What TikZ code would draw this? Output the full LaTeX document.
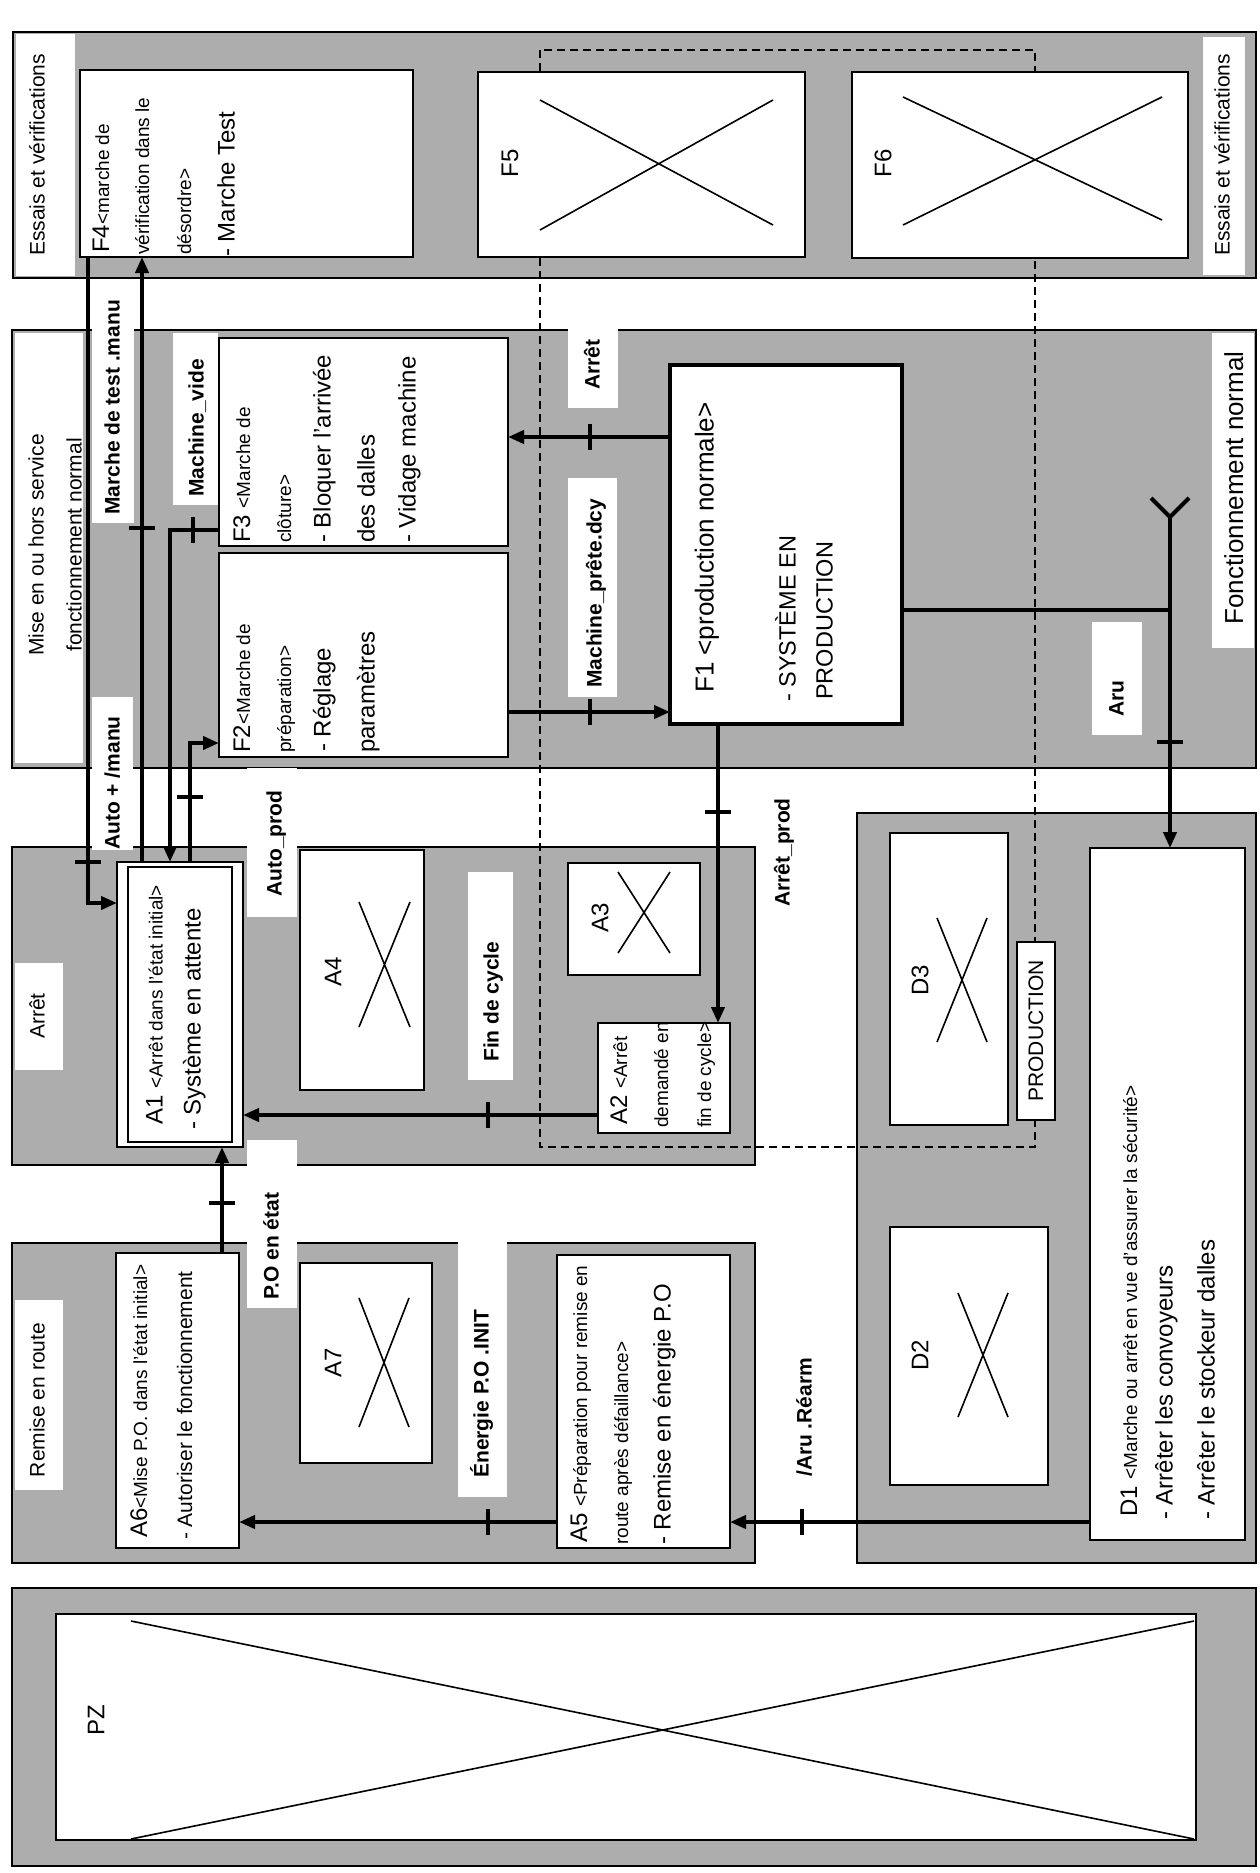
\documentclass[tikz,border=0pt]{standalone}
\usepackage{fontspec}
\setmainfont{Liberation Sans}
\usetikzlibrary{arrows.meta}
\newcounter{tl}
\newcommand\rtx[3][]{\stepcounter{tl}\node[rt,#1] (t\arabic{tl}) at (#2) {#3};}
\newcommand\bx[6][]{\node[box,#1,minimum width={#5-#3},minimum height={#6-#4}] (#2) at ({(#3+#5)/2},{(#4+#6)/2}) {};}
\newcommand\sm[1]{{\fontsize{19}{19}\selectfont #1}}
\begin{document}
\begin{tikzpicture}[x=1pt,y=-1pt,
  panel/.style={draw=black,line width=2pt,fill=black!32},
  box/.style={draw=black,line width=2pt,fill=white,inner sep=0pt,outer sep=0pt},
  wl/.style={fill=white},
  xl/.style={line width=1.6pt},
  dsh/.style={line width=2pt,dash pattern=on 8pt off 5pt},
  line/.style={line width=4pt},
  conn/.style={line width=4pt,-{Triangle[length=16pt,width=13pt]}},
  tick/.style={line width=4.5pt},
  rt/.style={rotate=90,anchor=base west,inner sep=0pt,font=\fontsize{24}{24}\selectfont},
  lab/.style={font=\bfseries\fontsize{21}{21}\selectfont},
  plab/.style={anchor=base,font=\fontsize{21}{21}\selectfont}]
\useasboundingbox (0,0) rectangle (1260,1873);
\fill[white] (0,0) rectangle (1260,1873);
% panels
\draw[panel] (13,32) rectangle (1256,278);
\draw[panel] (12,330) rectangle (1256,768);
\draw[panel] (12,847) rectangle (755,1165);
\draw[panel] (857,813) rectangle (1256,1563);
\draw[panel] (12,1243) rectangle (755,1563);
\draw[panel] (12,1588) rectangle (1256,1866);
% production frame
\draw[dsh] (540,50) rectangle (1035,1147);
% white label zones
\fill[wl] (16,34) rectangle (75,276);
\fill[wl] (1203,37) rectangle (1245,275);
\fill[wl] (15,333) rectangle (83,763);
\fill[wl] (1212,333) rectangle (1254,648);
\fill[wl] (92,326) rectangle (134,523);
\fill[wl] (173,333) rectangle (218,505);
\fill[wl] (92,697) rectangle (133,850);
\fill[wl] (247,768) rectangle (297,917);
\fill[wl] (568,322) rectangle (618,408);
\fill[wl] (568,478) rectangle (617,697);
\fill[wl] (1092,622) rectangle (1142,735);
\fill[wl] (15,963) rectangle (63,1070);
\fill[wl] (468,872) rectangle (513,1080);
\fill[wl] (247,1140) rectangle (297,1308);
\fill[wl] (15,1300) rectangle (63,1490);
\fill[wl] (458,1240) rectangle (507,1497);
% boxes
\bx{F4}{80}{70}{413}{257}
\bx{F5}{478}{72}{805}{257}
\bx{F6}{852}{72}{1188}{258}
\bx{F3}{219}{338}{508}{546}
\bx{F2}{219}{553}{508}{757}
\bx[line width=4.5pt]{F1}{670}{365}{902}{724}
\bx{A1o}{117}{862}{243}{1147}
\bx{A1i}{128}{867}{232}{1142}
\bx{A4}{300}{850}{424}{1090}
\bx{A3}{568}{863}{700}{975}
\bx{A2}{598}{1023}{730}{1133}
\bx{A6}{116}{1253}{239}{1548}
\bx{A7}{300}{1263}{432}{1463}
\bx{A5}{557}{1255}{730}{1548}
\bx{D3}{890}{833}{1008}{1125}
\bx{D2}{890}{1227}{1048}{1485}
\bx{D1}{1090}{848}{1245}{1540}
\bx[line width=1.5pt]{PROD}{1017}{942}{1055}{1120}
\bx{PZ}{56}{1614}{1196}{1840}
% crosses
\draw[xl] (540,100) -- (773,225) (540,230) -- (773,100);
\draw[xl] (903,97) -- (1162,220) (903,225) -- (1162,97);
\draw[xl] (359,902) -- (410,1027) (359,1027) -- (410,902);
\draw[xl] (618,872) -- (670,953) (618,953) -- (670,872);
\draw[xl] (359,1298) -- (409,1427) (359,1427) -- (409,1298);
\draw[xl] (937,918) -- (987,1042) (937,1042) -- (987,918);
\draw[xl] (958,1293) -- (1008,1417) (958,1417) -- (1008,1293);
\draw[xl] (131,1621) -- (1194,1839) (131,1839) -- (1194,1621);
% connectors
\coordinate (cA) at (88,903);
\draw[conn] (F4.south -| cA) -- (cA) -- (cA -| A1o.west);
\draw[tick] (75,862) -- (101,862);
\coordinate (cB) at (142,600);
\draw[conn] (A1o.north -| cB) -- (F4.south -| cB);
\draw[tick] (129,528) -- (155,528);
\coordinate (cC) at (170,530);
\draw[conn] (F3.west |- cC) -- (cC) -- (cC |- A1o.north);
\draw[tick] (193,517) -- (193,543);
\coordinate (cD) at (190,743);
\draw[conn] (A1o.north -| cD) -- (cD) -- (cD -| F2.west);
\draw[tick] (177,797) -- (203,797);
\coordinate (cE) at (590,437);
\draw[conn] (F1.west |- cE) -- (cE -| F3.east);
\draw[tick] (590,424) -- (590,450);
\coordinate (cF) at (590,712);
\draw[conn] (F2.east |- cF) -- (cF -| F1.west);
\draw[tick] (590,699) -- (590,725);
\coordinate (cG) at (1170,610);
\coordinate (cY) at (1170,517);
\draw[line] (F1.east |- cG) -- (cG);
\draw[conn] (cY) -- (cY |- D1.north);
\draw[line] (1151,498) -- (cY) -- (1189,498);
\draw[tick] (1157,742) -- (1183,742);
\coordinate (cH) at (718,800);
\draw[conn] (F1.south -| cH) -- (cH |- A2.north);
\draw[tick] (705,812) -- (731,812);
\coordinate (cI) at (400,1115);
\draw[conn] (A2.west |- cI) -- (cI -| A1o.east);
\draw[tick] (488,1102) -- (488,1128);
\coordinate (cJ) at (222,1200);
\draw[conn] (A6.north -| cJ) -- (cJ |- A1o.south);
\draw[tick] (209,1203) -- (235,1203);
\coordinate (cK) at (400,1522);
\draw[conn] (A5.west |- cK) -- (cK -| A6.east);
\draw[tick] (488,1509) -- (488,1535);
\draw[conn] (D1.west |- cK) -- (cK -| A5.east);
\draw[tick] (802,1509) -- (802,1535);
% panel labels
\rtx[plab]{44.5,155}{Essais et vérifications}
\rtx[plab]{1229.5,155}{Essais et vérifications}
\rtx[plab]{43.5,545}{Mise en ou hors service}
\rtx[plab]{81.5,545}{fonctionnement normal}
\rtx[plab,font=\fontsize{26}{26}\selectfont]{1243,488}{Fonctionnement normal}
\rtx[plab]{44.5,1016}{Arrêt}
\rtx[plab]{44.5,1400}{Remise en route}
% transition labels
\rtx[lab]{119.5,515}{Marche de test .manu}
\rtx[lab]{203.5,497}{Machine\_vide}
\rtx[lab]{119.5,850}{Auto + /manu}
\rtx[lab]{281.5,897}{Auto\_prod}
\rtx[lab]{599.5,390}{Arrêt}
\rtx[lab]{601.5,688}{Machine\_prête.dcy}
\rtx[lab]{1123.5,717}{Aru}
\rtx[lab]{789.5,907}{Arrêt\_prod}
\rtx[lab]{498.5,1062}{Fin de cycle}
\rtx[lab]{278.5,1300}{P.O en état}
\rtx[lab]{488.5,1478}{Énergie P.O .INIT}
\rtx[lab]{811.5,1477}{/Aru .Réarm}
% F4
\rtx{109,253}{F4\sm{<marche de}}
\rtx{149,255}{\sm{vérification dans le}}
\rtx{191,255}{\sm{désordre>}}
\rtx{234.5,257}{- Marche Test}
\rtx[anchor=center]{510,163}{F5}
\rtx[anchor=center]{883,163}{F6}
% F3 F2
\rtx{250,543}{F3 \sm{<Marche de}}
\rtx{291,543}{\sm{clôture>}}
\rtx{330.5,543}{- Bloquer l'arrivée}
\rtx{374.5,543}{des dalles}
\rtx{415.5,543}{- Vidage machine}
\rtx{250,753}{F2\sm{<Marche de}}
\rtx{291,753}{\sm{préparation>}}
\rtx{330.5,752}{- Réglage}
\rtx{374.5,753}{paramètres}
% F1
\rtx[font=\fontsize{26}{26}\selectfont]{713.5,693}{F1 <production normale>}
\rtx[font=\fontsize{23.5}{23.5}\selectfont]{795.5,702}{- SYSTÈME EN}
\rtx[font=\fontsize{23.5}{23.5}\selectfont]{832.5,700}{PRODUCTION}
% A
\rtx{162.5,1125}{A1 \sm{<Arrêt dans l'état initial>}}
\rtx{200.5,1130}{- Système en attente}
\rtx[anchor=center]{333,972}{A4}
\rtx[anchor=center]{600,918}{A3}
\rtx{627,1125}{A2 \sm{<Arrêt}}
\rtx{668,1128}{\sm{demandé en}}
\rtx{711,1128}{\sm{fin de cycle>}}
\rtx{147,1538}{A6\sm{<Mise P.O. dans l'état initial>}}
\rtx[font=\fontsize{21}{21}\selectfont]{192,1540}{- Autoriser le fonctionnement}
\rtx[anchor=center]{333,1363}{A7}
\rtx{587,1543}{A5 \sm{<Préparation pour remise en}}
\rtx{628,1545}{\sm{route après défaillance>}}
\rtx{670.5,1545}{- Remise en énergie P.O}
% D
\rtx[anchor=center]{920,980}{D3}
\rtx[anchor=center,font=\fontsize{21}{21}\selectfont]{1036,1031}{PRODUCTION}
\rtx[anchor=center]{920,1355}{D2}
\rtx{1137,1517}{D1 \sm{<Marche ou arrêt en vue d'assurer la sécurité>}}
\rtx{1172.5,1520}{- Arrêter les convoyeurs}
\rtx{1214.5,1520}{- Arrêter le stockeur dalles}
% PZ
\rtx[anchor=center]{96,1720}{PZ}
\end{tikzpicture}
\end{document}
